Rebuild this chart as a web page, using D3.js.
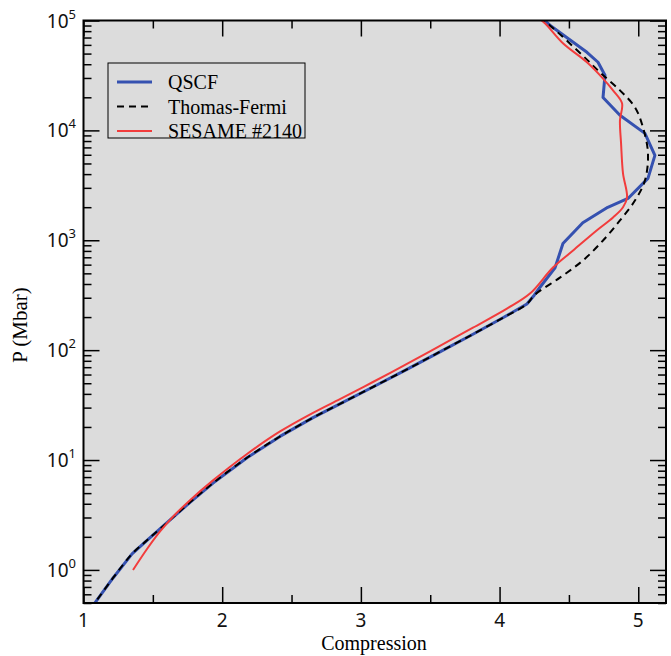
<!DOCTYPE html>
<html>
<head>
<meta charset="utf-8">
<script src="https://cdn.jsdelivr.net/npm/d3@7"></script>
<style>
  body { margin: 0; background: #fff; }
  svg { display: block; }
</style>
</head>
<body>
<div id="chart"></div>
<script>
// series (compression, pressure in Mbar)
var qscfC = [1.05, 1.213, 1.35, 1.458, 1.602, 1.768, 1.934, 2.179, 2.417, 2.655, 2.849, 3.087, 3.332, 3.57, 3.808, 4.024, 4.197, 4.25, 4.29, 4.40, 4.457, 4.60, 4.78, 4.926, 5.07, 5.12, 5.048, 4.868, 4.746, 4.760, 4.710, 4.630, 4.363, 4.29]
var qscfP = [0.44, 0.845, 1.40, 1.86, 2.69, 4.12, 6.17, 10.5, 16.4, 24.3, 32.4, 46.2, 66.8, 96.6, 139.6, 197, 263, 316, 372, 562, 933, 1445, 1995, 2400, 3656, 5916, 9397, 13710, 19950, 31700, 41700, 51400, 90600, 110000]

var tfC = [1.05, 1.213, 1.35, 1.458, 1.602, 1.768, 1.934, 2.179, 2.417, 2.655, 2.849, 3.087, 3.332, 3.57, 3.808, 4.024, 4.197, 4.25, 4.435, 4.601, 4.746, 4.868, 4.976, 5.048, 5.07, 5.034, 4.976, 4.868, 4.724, 4.60, 4.378, 4.30]
var tfP = [0.44, 0.845, 1.40, 1.86, 2.69, 4.12, 6.17, 10.5, 16.4, 24.3, 32.4, 46.2, 66.8, 96.6, 139.6, 197, 263, 316, 457, 655, 995, 1514, 2300, 3500, 6166, 10640, 16220, 23120, 33730, 47900, 87000, 105000]

var sesC = [1.357, 1.458, 1.552, 1.645, 1.768, 1.934, 2.179, 2.417, 2.655, 2.849, 3.087, 3.332, 3.57, 3.808, 4.053, 4.219, 4.385, 4.53, 4.70, 4.818, 4.89, 4.919, 4.89, 4.876, 4.868, 4.883, 4.818, 4.738, 4.630, 4.457, 4.327, 4.28]
var sesP = [1.0, 1.55, 2.24, 3.05, 4.31, 6.53, 11.35, 18.2, 26.9, 35.9, 51.3, 75.0, 109.6, 160.3, 238.8, 327, 565, 807, 1227, 1611, 1995, 2455, 4055, 7621, 12330, 17620, 23120, 30400, 41700, 62100, 94400, 105000]

var seriesNames = ["QSCF", "Thomas-Fermi", "SESAME #2140"]
var xTicks = [1, 2, 3, 4, 5]
var yExps = [0, 1, 2, 3, 4, 5]

var width = 671, height = 656
var pL = 83.5, pR = 666, pT = 20.5, pB = 603

var svg = d3.select("#chart").append("svg")
  .attr("width", width)
  .attr("height", height)

var x = d3.scaleLinear().domain([1, 5.2]).range([pL, pR])
var y = d3.scaleLog().domain([0.5, 1e5]).range([pB, pT])

// plot background
svg.append("rect")
  .attr("x", pL).attr("y", pT)
  .attr("width", pR - pL).attr("height", pB - pT)
  .attr("fill", "#dcdcdc")

svg.append("clipPath").attr("id", "clip")
  .append("rect")
  .attr("x", pL).attr("y", pT)
  .attr("width", pR - pL).attr("height", pB - pT)

// ticks, mirrored on all four sides, pointing inward
var xMinor = d3.range(1.5, 5.2, 1)
var yMinor = []
for (var e = -1; e < 5; e++) {
  for (var m = 2; m <= 9; m++) {
    var v = m * Math.pow(10, e)
    if (v >= 0.5 && v < 1e5) yMinor.push(v)
  }
}
var yMaj = yExps.map(function(d) { return Math.pow(10, d) })

function styleAxis(g) {
  g.select(".domain").remove()
  g.selectAll("line").attr("stroke", "#000").attr("stroke-width", 1.5)
}

function addTicks(axis, tx, ty, vals, len) {
  svg.append("g").attr("transform", "translate(" + tx + "," + ty + ")")
    .call(axis.tickValues(vals).tickSize(-len).tickFormat(""))
    .call(styleAxis)
}

addTicks(d3.axisBottom(x), 0, pB, xTicks, 16)
addTicks(d3.axisTop(x), 0, pT, xTicks, 16)
addTicks(d3.axisLeft(y), pL, 0, yMaj, 16)
addTicks(d3.axisRight(y), pR, 0, yMaj, 16)
addTicks(d3.axisBottom(x), 0, pB, xMinor, 8)
addTicks(d3.axisTop(x), 0, pT, xMinor, 8)
addTicks(d3.axisLeft(y), pL, 0, yMinor, 8)
addTicks(d3.axisRight(y), pR, 0, yMinor, 8)

// curves, drawn in set order: QSCF, TF, SESAME
var curves = [
  { c: qscfC, p: qscfP, color: "#3551b0", w: 3, dash: null, curve: d3.curveLinear },
  { c: tfC, p: tfP, color: "#000", w: 2, dash: "7,5", curve: d3.curveCatmullRom.alpha(0.5) },
  { c: sesC, p: sesP, color: "#f23c3c", w: 2, dash: null, curve: d3.curveCatmullRom.alpha(0.5) }
]

var plot = svg.append("g").attr("clip-path", "url(#clip)")
curves.forEach(function(s) {
  var line = d3.line()
    .curve(s.curve)
    .x(function(d) { return x(d[0]) })
    .y(function(d) { return y(d[1]) })
  plot.append("path")
    .datum(d3.zip(s.c, s.p))
    .attr("d", line)
    .attr("fill", "none")
    .attr("stroke", s.color)
    .attr("stroke-width", s.w)
    .attr("stroke-linejoin", "round")
    .attr("stroke-dasharray", s.dash)
})

// frame
svg.append("rect")
  .attr("x", pL).attr("y", pT)
  .attr("width", pR - pL).attr("height", pB - pT)
  .attr("fill", "none")
  .attr("stroke", "#000")
  .attr("stroke-width", 2)

// tick labels
var sans = "'Noto Sans', 'DejaVu Sans', sans-serif"
var serif = "'Liberation Serif', 'DejaVu Serif', serif"

svg.selectAll(".xlab").data(xTicks).enter().append("text")
  .attr("x", function(d) { return x(d) })
  .attr("y", 627)
  .attr("text-anchor", "middle")
  .attr("font-family", sans)
  .attr("font-size", 19)
  .attr("fill", "#111")
  .text(function(d) { return d })

var ylab = svg.selectAll(".ylab").data(yExps).enter().append("text")
  .attr("x", 76)
  .attr("y", function(d) { return y(Math.pow(10, d)) + 7 })
  .attr("text-anchor", "end")
  .attr("font-family", sans)
  .attr("font-size", 19)
  .attr("fill", "#111")
ylab.append("tspan").text("10")
ylab.append("tspan")
  .attr("dy", -9)
  .attr("font-size", 13)
  .text(function(d) { return d })

// axis titles
svg.append("text")
  .attr("x", 374).attr("y", 650)
  .attr("text-anchor", "middle")
  .attr("font-family", serif)
  .attr("font-size", 20)
  .text("Compression")

svg.append("text")
  .attr("transform", "translate(27,325) rotate(-90)")
  .attr("text-anchor", "middle")
  .attr("font-family", serif)
  .attr("font-size", 21)
  .text("P (Mbar)")

// legend
var lg = svg.append("g")
lg.append("rect")
  .attr("x", 108).attr("y", 63)
  .attr("width", 197).attr("height", 75)
  .attr("fill", "#dcdcdc")
  .attr("stroke", "#000")
  .attr("stroke-width", 1)

seriesNames.forEach(function(name, i) {
  var ly = 82 + i * 24.5
  var s = curves[i]
  lg.append("line")
    .attr("x1", 117).attr("x2", 152)
    .attr("y1", ly).attr("y2", ly)
    .attr("stroke", s.color)
    .attr("stroke-width", s.w)
    .attr("stroke-dasharray", s.dash)
  lg.append("text")
    .attr("x", 168).attr("y", ly + 7)
    .attr("font-family", serif)
    .attr("font-size", 20)
    .text(name)
})
</script>
</body>
</html>
